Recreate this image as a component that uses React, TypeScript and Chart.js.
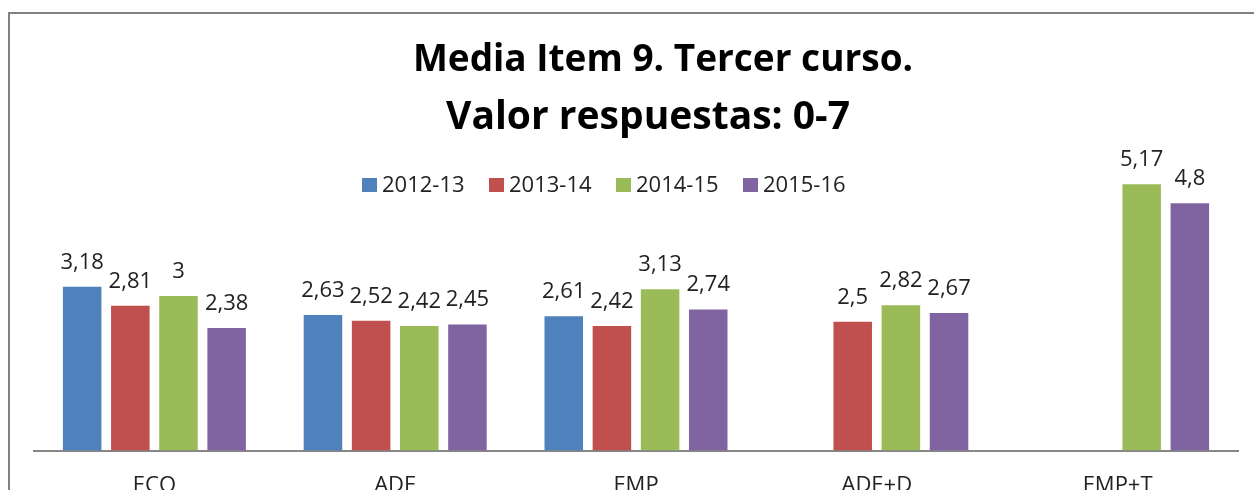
import { useEffect, useRef } from "react";
import { Chart, registerables } from "chart.js";

Chart.register(...registerables);

const categories = ["ECO", "ADE", "EMP", "ADE+D", "EMP+T"];
const seriesLabels = ["2012-13", "2013-14", "2014-15", "2015-16"];
const s2012_13 = [3.18, 2.63, 2.61, null, null];
const s2013_14 = [2.81, 2.52, 2.42, 2.5, null];
const s2014_15 = [3, 2.42, 3.13, 2.82, 5.17];
const s2015_16 = [2.38, 2.45, 2.74, 2.67, 4.8];
const seriesColors = ["#4F81BD", "#C0504D", "#9BBB59", "#8064A2"];
const titleLines = ["Media Item 9. Tercer curso.", "Valor respuestas: 0-7"];
const yMin = 0;
const yMax = 6;

const FONT = "'Open Sans', 'DejaVu Sans', sans-serif";

const framePlugin = {
  id: "frame",
  beforeDraw(chart: any) {
    const { ctx, width, height } = chart;
    ctx.save();
    ctx.fillStyle = "#ffffff";
    ctx.fillRect(0, 0, width, height);
    ctx.strokeStyle = "#808080";
    ctx.lineWidth = 2;
    ctx.strokeRect(9, 13, width + 20, height + 20);
    ctx.restore();
  },
};

const titlePlugin = {
  id: "customTitle",
  afterDraw(chart: any) {
    const { ctx } = chart;
    ctx.save();
    ctx.fillStyle = "#000000";
    ctx.textAlign = "center";
    ctx.textBaseline = "alphabetic";
    ctx.font = `bold 37px ${FONT}`;
    ctx.fillText(titleLines[0], 663, 71);
    ctx.font = `bold 39px ${FONT}`;
    ctx.fillText(titleLines[1], 648, 129);
    ctx.restore();
  },
};

const legendPlugin = {
  id: "customLegend",
  afterDraw(chart: any) {
    const { ctx } = chart;
    ctx.save();
    ctx.font = `22px ${FONT}`;
    ctx.textAlign = "left";
    ctx.textBaseline = "alphabetic";
    chart.data.datasets.forEach((ds: any, i: number) => {
      const x0 = 362 + i * 127;
      ctx.fillStyle = ds.backgroundColor;
      ctx.fillRect(x0, 178, 15, 14);
      ctx.fillStyle = "#222222";
      ctx.fillText(ds.label, x0 + 20, 192);
    });
    ctx.restore();
  },
};

const dataLabelPlugin = {
  id: "dataLabels",
  afterDatasetsDraw(chart: any) {
    const { ctx } = chart;
    ctx.save();
    ctx.font = `22px ${FONT}`;
    ctx.fillStyle = "#222222";
    ctx.textAlign = "center";
    ctx.textBaseline = "alphabetic";
    chart.data.datasets.forEach((ds: any, di: number) => {
      const meta = chart.getDatasetMeta(di);
      meta.data.forEach((el: any, idx: number) => {
        const v = ds.data[idx];
        if (v === null || v === undefined) return;
        ctx.fillText(String(v).replace(".", ","), el.x, el.y - 18);
      });
    });
    ctx.restore();
  },
};

export default function App() {
  const ref = useRef<HTMLCanvasElement | null>(null);
  useEffect(() => {
    if (!ref.current) return;
    const series = [s2012_13, s2013_14, s2014_15, s2015_16];
    const chart = new Chart(ref.current, {
      type: "bar",
      data: {
        labels: categories,
        datasets: series.map((d, i) => ({
          label: seriesLabels[i],
          data: d,
          backgroundColor: seriesColors[i],
          borderWidth: 0,
          categoryPercentage: 0.8,
          barPercentage: 0.8,
        })),
      },
      options: {
        responsive: false,
        animation: false,
        devicePixelRatio: 1,
        layout: { padding: { left: 34, right: 16, top: 141.5, bottom: 20 } },
        plugins: {
          legend: { display: false },
          title: { display: false },
          tooltip: { enabled: false },
        },
        scales: {
          x: {
            grid: { display: false, drawTicks: false },
            border: { display: true, color: "#868686", width: 2 },
            ticks: { font: { family: FONT, size: 22 }, color: "#222222", padding: 22 },
          },
          y: { display: false, min: yMin, max: yMax },
        },
      },
      plugins: [framePlugin, dataLabelPlugin, titlePlugin, legendPlugin],
    });
    return () => chart.destroy();
  }, []);
  return (
    <div style={{ position: "absolute", left: 0, top: 0, width: 1254, height: 490, overflow: "hidden", background: "#fff" }}>
      <canvas ref={ref} width={1254} height={541} style={{ display: "block", width: 1254, height: 541 }} />
    </div>
  );
}
